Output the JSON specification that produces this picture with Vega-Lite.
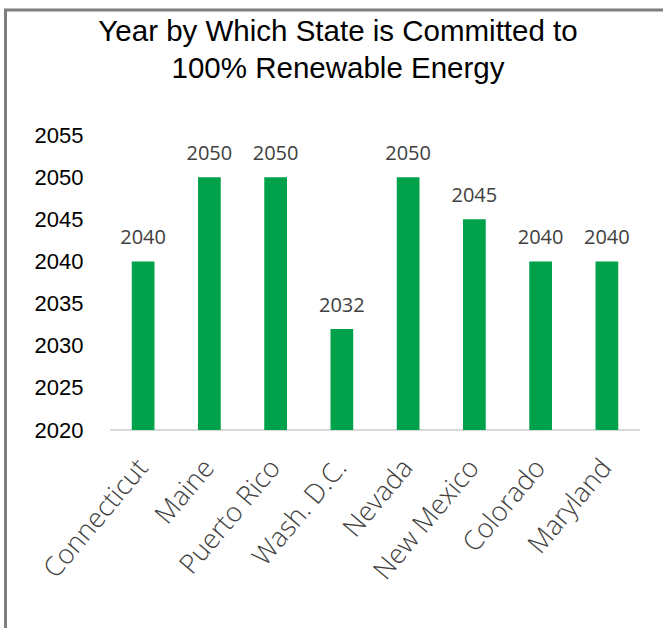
{
  "$schema": "https://vega.github.io/schema/vega-lite/v6.json",
  "autosize": {"type": "none"},
  "padding": {"left": 5.5, "top": 10, "right": -22.5, "bottom": -55},
  "width": 680,
  "height": 673,
  "background": "white",
  "config": {
    "view": {"stroke": "#7f7f7f", "strokeWidth": 3}
  },
  "title": {
    "text": ["Year by Which State is Committed to", "100% Renewable Energy"],
    "font": "Liberation Sans",
    "fontSize": 29.5,
    "fontWeight": "normal",
    "color": "#000000",
    "lineHeight": 37,
    "anchor": "middle",
    "frame": "group",
    "orient": "top",
    "baseline": "alphabetic",
    "offset": -97,
    "dx": -7.5
  },
  "data": {
    "values": [
      {"state": "Connecticut", "year": 2040},
      {"state": "Maine", "year": 2050},
      {"state": "Puerto Rico", "year": 2050},
      {"state": "Wash. D.C.", "year": 2032},
      {"state": "Nevada", "year": 2050},
      {"state": "New Mexico", "year": 2045},
      {"state": "Colorado", "year": 2040},
      {"state": "Maryland", "year": 2040}
    ]
  },
  "encoding": {
    "x": {
      "field": "state",
      "type": "nominal",
      "sort": null,
      "scale": {
        "type": "band",
        "domain": ["Connecticut", "Maine", "Puerto Rico", "Wash. D.C.", "Nevada", "New Mexico", "Colorado", "Maryland"],
        "range": [104.5, 634.5],
        "paddingInner": 0.657,
        "paddingOuter": 0.3285
      },
      "axis": {
        "title": null,
        "orient": "bottom",
        "offset": -253,
        "domain": false,
        "ticks": false,
        "tickSize": 0,
        "grid": false,
        "labelAngle": -50,
        "labelAlign": "right",
        "labelBaseline": "middle",
        "labelPadding": 33,
        "labelOffset": 0,
        "labelFont": "Open Sans",
        "labelFontWeight": 300,
        "labelFontSize": 27,
        "labelColor": "#404040",
        "labelOverlap": false
      }
    }
  },
  "layer": [
    {
      "mark": {"type": "rule", "color": "#d9d9d9", "strokeWidth": 1.5, "xOffset": -33.1, "x2Offset": 33.1},
      "encoding": {
        "x": {"datum": "Connecticut", "type": "nominal"},
        "x2": {"datum": "Maryland"},
        "y": {"datum": 2020, "type": "quantitative"}
      }
    },
    {
      "mark": {"type": "bar", "color": "#00a14b"},
      "encoding": {
        "y": {
          "field": "year",
          "type": "quantitative",
          "scale": {"domain": [1990, 2069.83], "nice": false, "zero": false},
          "axis": {
            "title": null,
            "values": [2020, 2025, 2030, 2035, 2040, 2045, 2050, 2055],
            "format": "d",
            "offset": -77.5,
            "domain": false,
            "ticks": false,
            "tickSize": 0,
            "grid": false,
            "labelPadding": 0,
            "labelFont": "Liberation Sans",
            "labelFontSize": 22,
            "labelColor": "#000000"
          }
        },
        "y2": {"datum": 2020}
      }
    },
    {
      "mark": {"type": "text", "font": "Open Sans", "fontSize": 20, "color": "#404040", "baseline": "alphabetic", "dy": -17},
      "encoding": {
        "y": {"field": "year", "type": "quantitative"},
        "text": {"field": "year", "type": "quantitative", "format": "d"}
      }
    }
  ]
}
